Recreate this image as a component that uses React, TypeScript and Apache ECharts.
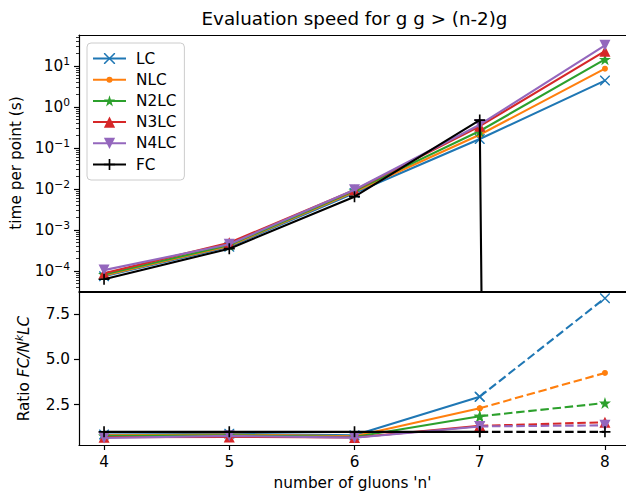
import React, { useEffect, useRef } from "react";
import * as echarts from "echarts";

// number of gluons n
const GLUONS = [4, 5, 6, 7, 8];

// time per point (s) for each colour-expansion order; FC has no timing at n = 8
const LC_TIME = [7.4e-5, 3.9e-4, 8.0e-3, 0.165, 4.4];
const NLC_TIME = [7.8e-5, 4.1e-4, 8.6e-3, 0.21, 8.6];
const N2LC_TIME = [8.2e-5, 4.3e-4, 9.0e-3, 0.26, 14.5];
const N3LC_TIME = [8.8e-5, 4.9e-4, 9.4e-3, 0.34, 23];
const N4LC_TIME = [1.05e-4, 4.5e-4, 9.6e-3, 0.37, 32];
const FC_TIME = [6.3e-5, 3.5e-4, 6.5e-3, 0.48, 0];

// ratio FC / N^kLC (n = 8 uses an extrapolated FC timing)
const LC_RATIO = [0.85, 0.9, 0.81, 2.94, 8.37];
const NLC_RATIO = [0.81, 0.85, 0.76, 2.3, 4.25];
const N2LC_RATIO = [0.77, 0.81, 0.72, 1.86, 2.59];
const N3LC_RATIO = [0.7, 0.72, 0.69, 1.33, 1.53];
const N4LC_RATIO = [0.66, 0.78, 0.68, 1.3, 1.36];
const FC_RATIO = [1, 1, 1, 1, 1];

const SERIES_NAMES = ["LC", "NLC", "N2LC", "N3LC", "N4LC", "FC"];

// axis ranges and tick labels
const X_MIN = 3.8;
const X_MAX = 8.168;
const TIME_MIN = 3.25e-5;
const TIME_MAX = 57;
const TIME_DECADES = [1e-4, 1e-3, 1e-2, 1e-1, 1, 10];
const RATIO_MIN = 0.276;
const RATIO_MAX = 8.71;
const RATIO_TICKS = [2.5, 5.0, 7.5];

const FONT = "DejaVu Sans";
const COLORS = ["#1f77b4", "#ff7f0e", "#2ca02c", "#d62728", "#9467bd", "#000000"];

// log-axis minor ticks at 2..9 x 10^d
const MINOR_TICKS: number[] = [];
for (let d = -5; d <= 1; d++) {
  for (let k = 2; k <= 9; k++) {
    const v = Number((k * Math.pow(10, d)).toPrecision(3));
    if (v >= TIME_MIN && v <= TIME_MAX) MINOR_TICKS.push(v);
  }
}

// non-positive values on a log axis are clipped to a tiny floor, so the line drops off the plot
const LOG_FLOOR = 1e-300;
const clipLog = (v: number) => (v > 0 ? v : LOG_FLOOR);

// marker shapes
const CROSS_X =
  "path://M0,0L1,0L5,4L9,0L10,0L10,1L6,5L10,9L10,10L9,10L5,6L1,10L0,10L0,9L4,5L0,1Z";
const PLUS =
  "path://M4.25,0H5.75V4.25H10V5.75H5.75V10H4.25V5.75H0V4.25H4.25Z";
const TRI_DOWN = "path://M0,0L10,0L5,10Z";
const STAR = (() => {
  const pts: string[] = [];
  for (let i = 0; i < 10; i++) {
    const r = i % 2 === 0 ? 5 : 5 * 0.381966;
    const a = -Math.PI / 2 + (i * Math.PI) / 5;
    pts.push(`${(5 + r * Math.cos(a)).toFixed(3)},${(5 + r * Math.sin(a)).toFixed(3)}`);
  }
  return "path://M" + pts.join("L") + "Z";
})();

const LEGEND_W = 33;
const LEGEND_H = 14;

// legend handle for the point marker: line plus a small dot (the default icon would enlarge the dot)
const SMALL_DOT_ICON =
  "image://data:image/svg+xml;charset=utf-8," +
  encodeURIComponent(
    `<svg xmlns="http://www.w3.org/2000/svg" width="${LEGEND_W}" height="${LEGEND_H}" viewBox="0 0 ${LEGEND_W} ${LEGEND_H}">` +
      `<line x1="0" y1="${LEGEND_H / 2}" x2="${LEGEND_W}" y2="${LEGEND_H / 2}" stroke="#ff7f0e" stroke-width="2.1"/>` +
      `<circle cx="${LEGEND_W / 2}" cy="${LEGEND_H / 2}" r="3" fill="#ff7f0e"/></svg>`
  );

const SYMBOLS = [CROSS_X, "circle", STAR, "triangle", TRI_DOWN, PLUS];
const SYMBOL_SIZES = [10, 6, 12, 11, 11, 11];

const TIMES = [LC_TIME, NLC_TIME, N2LC_TIME, N3LC_TIME, N4LC_TIME, FC_TIME];
const RATIOS = [LC_RATIO, NLC_RATIO, N2LC_RATIO, N3LC_RATIO, N4LC_RATIO, FC_RATIO];

function buildOption() {
  const series: any[] = [];

  const lineSeries = (
    name: string,
    idx: number,
    data: number[][],
    xAxisIndex: number,
    yAxisIndex: number,
    dashed: boolean
  ) => ({
    type: "line",
    name,
    xAxisIndex,
    yAxisIndex,
    data,
    symbol: SYMBOLS[idx],
    symbolSize: SYMBOL_SIZES[idx],
    showSymbol: true,
    clip: true,
    silent: true,
    z: 2 + idx,
    lineStyle: {
      color: COLORS[idx],
      width: 2.1,
      type: dashed ? [8.5, 3.7] : "solid",
    },
    itemStyle: { color: COLORS[idx], borderWidth: 0 },
    emphasis: { disabled: true },
  });

  // upper panel: timings on a log scale
  SERIES_NAMES.forEach((name, idx) => {
    const data = GLUONS.map((n, i) => [n, clipLog(TIMES[idx][i])]);
    series.push(lineSeries(name, idx, data, 0, 0, false));
  });

  // lower panel: ratios, solid up to n = 7 and dashed beyond
  SERIES_NAMES.forEach((name, idx) => {
    const solid = GLUONS.slice(0, 4).map((n, i) => [n, RATIOS[idx][i]]);
    series.push(lineSeries(name + " ratio", idx, solid, 2, 2, false));
  });
  SERIES_NAMES.forEach((name, idx) => {
    const dashed = GLUONS.slice(3).map((n, i) => [n, RATIOS[idx][i + 3]]);
    series.push(lineSeries(name + " ratio (extrapolated)", idx, dashed, 2, 2, true));
  });

  const spine = { color: "#000", width: 1.2 };
  const labelBase = { color: "#000", fontSize: 15.3, fontFamily: FONT };

  // plain spine: a value axis that only draws its line
  const spineAxis = (gridIndex: number, position: "top" | "bottom") => ({
    type: "value",
    gridIndex,
    position,
    min: X_MIN,
    max: X_MAX,
    axisLine: { show: true, onZero: false, lineStyle: spine },
    axisTick: { show: false },
    axisLabel: { show: false },
    splitLine: { show: false },
  });

  const legendData = SERIES_NAMES.map((name) =>
    name === "NLC" ? { name, icon: SMALL_DOT_ICON } : { name }
  );

  return {
    animation: false,
    backgroundColor: "#ffffff",
    textStyle: { fontFamily: FONT },
    graphic: [
      {
        type: "text",
        x: 354.5,
        y: 18.5,
        style: {
          text: "Evaluation speed for g g > (n-2)g",
          fontSize: 18.3,
          fontFamily: FONT,
          fill: "#000",
          align: "center",
          verticalAlign: "middle",
        },
      },
    ],
    legend: {
      data: legendData,
      orient: "vertical",
      left: 87,
      top: 43,
      itemWidth: LEGEND_W,
      itemHeight: LEGEND_H,
      itemGap: 6.2,
      padding: [8, 8, 8, 5],
      borderColor: "#cccccc",
      borderWidth: 1,
      borderRadius: 4,
      backgroundColor: "rgba(255,255,255,0.8)",
      selectedMode: false,
      textStyle: { ...labelBase, lineHeight: 14, padding: [0, 0, 0, 5] },
    },
    grid: [
      { left: 79, top: 35, width: 547, height: 256, show: false, containLabel: false },
      { left: 79, top: 292, width: 547, height: 153, show: false, containLabel: false },
    ],
    xAxis: [
      spineAxis(0, "bottom"),
      spineAxis(0, "top"),
      {
        type: "value",
        gridIndex: 1,
        position: "bottom",
        min: X_MIN,
        max: X_MAX,
        axisLine: { show: true, onZero: false, lineStyle: spine },
        axisTick: { show: true, length: 5, lineStyle: spine, customValues: GLUONS },
        axisLabel: { ...labelBase, margin: 9, customValues: GLUONS, formatter: (v: number) => String(v) },
        splitLine: { show: false },
        name: "number of gluons 'n'",
        nameLocation: "middle",
        nameGap: 30,
        nameTextStyle: { ...labelBase },
      },
      spineAxis(1, "top"),
    ],
    yAxis: [
      {
        type: "log",
        logBase: 10,
        gridIndex: 0,
        min: TIME_MIN,
        max: TIME_MAX,
        axisLine: { show: true, onZero: false, lineStyle: spine },
        axisTick: { show: true, length: 5, lineStyle: spine, customValues: TIME_DECADES },
        axisLabel: {
          ...labelBase,
          margin: 9,
          customValues: TIME_DECADES,
          formatter: (v: number) => {
            const e = Math.round(Math.log10(v));
            const s = e < 0 ? "\u2212" + Math.abs(e) : String(e);
            return `{b|10}{s|${s}}`;
          },
          rich: {
            b: { fontSize: 15.3, fontFamily: FONT, color: "#000", lineHeight: 20 },
            s: { fontSize: 10.7, fontFamily: FONT, color: "#000", verticalAlign: "top", lineHeight: 12 },
          },
        },
        splitLine: { show: false },
        name: "time per point (s)",
        nameLocation: "middle",
        nameGap: 56,
        nameTextStyle: { ...labelBase },
      },
      {
        // minor ticks of the log axis
        type: "log",
        logBase: 10,
        gridIndex: 0,
        min: TIME_MIN,
        max: TIME_MAX,
        position: "left",
        axisLine: { show: false },
        axisTick: { show: true, length: 3, lineStyle: { color: "#000", width: 0.8 }, customValues: MINOR_TICKS },
        axisLabel: { show: false },
        splitLine: { show: false },
      },
      {
        type: "value",
        gridIndex: 1,
        min: RATIO_MIN,
        max: RATIO_MAX,
        axisLine: { show: true, onZero: false, lineStyle: spine },
        axisTick: { show: true, length: 5, lineStyle: spine, customValues: RATIO_TICKS },
        axisLabel: {
          ...labelBase,
          margin: 9,
          customValues: RATIO_TICKS,
          formatter: (v: number) => v.toFixed(1),
        },
        splitLine: { show: false },
        name: "Ratio {i|FC/N}{k|k}{i|LC}",
        nameLocation: "middle",
        nameGap: 45,
        nameTextStyle: {
          ...labelBase,
          lineHeight: 20,
          rich: {
            i: { fontSize: 15.3, fontFamily: FONT, fontStyle: "italic", color: "#000", lineHeight: 20 },
            k: { fontSize: 10.7, fontFamily: FONT, fontStyle: "italic", color: "#000", verticalAlign: "top", lineHeight: 12 },
          },
        },
      },
    ],
    series,
  };
}

export default function App() {
  const ref = useRef<HTMLDivElement>(null);

  useEffect(() => {
    if (!ref.current) return;
    const chart = echarts.init(ref.current, undefined, { renderer: "svg" });
    chart.setOption(buildOption() as any);
    return () => chart.dispose();
  }, []);

  return (
    <div
      ref={ref}
      style={{ position: "fixed", left: 0, top: 0, width: 626, height: 495, background: "#fff" }}
    />
  );
}
